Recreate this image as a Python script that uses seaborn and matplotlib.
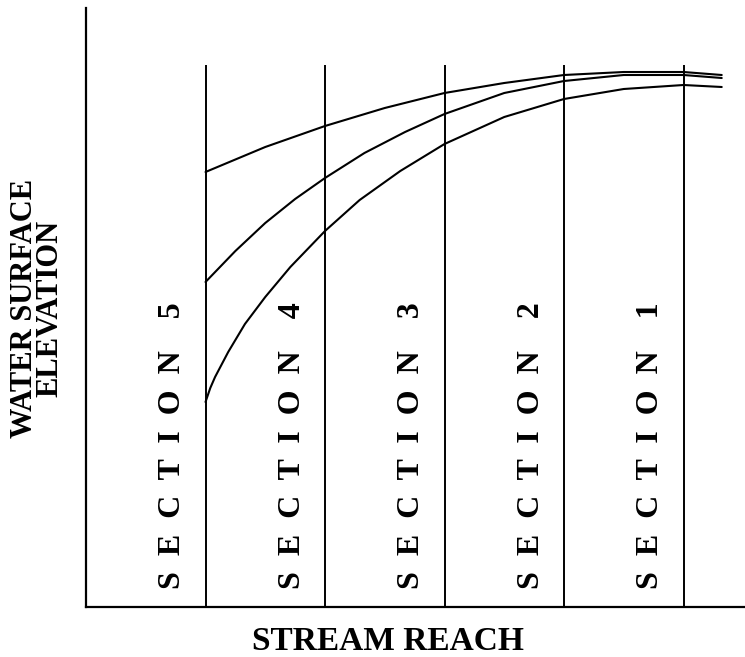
import matplotlib
matplotlib.use("Agg")
import matplotlib.pyplot as plt
import seaborn as sns
import pandas as pd

# Reach stations (each section is 1 unit long) and water-surface elevations
# for the three flow profiles
x_high = [1.0, 1.5, 2.0, 2.5, 3.0, 3.5, 4.0, 4.5, 5.0, 5.32]
elev_high = [435, 460, 481, 499, 514, 524, 532, 535, 535, 532]

x_mid = [1.0, 1.25, 1.5, 1.75, 2.0, 2.33, 2.67, 3.0, 3.5, 4.0, 4.5, 5.0, 5.32]
elev_mid = [325, 356, 384, 408, 429, 454, 475, 493, 514, 526, 532, 532, 529]

x_low = [1.0, 1.04, 1.08, 1.19, 1.33, 1.5, 1.71, 2.0, 2.29, 2.63, 3.0, 3.5, 4.0,
         4.5, 5.0, 5.32]
elev_low = [205, 219, 230, 255, 283, 310, 340, 376, 407, 436, 463, 490, 508,
            518, 522, 520]

# Section boundaries along the reach and their labels
section_bounds = [1, 2, 3, 4, 5]
section_names = ["5", "4", "3", "2", "1"]
boundary_top = 542

profiles = pd.concat([
    pd.DataFrame({"reach": x_high, "elevation": elev_high, "profile": "high"}),
    pd.DataFrame({"reach": x_mid, "elevation": elev_mid, "profile": "mid"}),
    pd.DataFrame({"reach": x_low, "elevation": elev_low, "profile": "low"}),
])

sns.set_theme(style="white")
plt.rcParams["font.family"] = ["Liberation Serif", "DejaVu Serif"]

fig = plt.figure(figsize=(7.45, 6.57), dpi=100)
ax = fig.add_axes([86 / 745, 50 / 657, 659 / 745, 599 / 657])

sns.lineplot(data=profiles, x="reach", y="elevation", hue="profile",
             palette=["black", "black", "black"], estimator=None, sort=False,
             legend=False, linewidth=1.5, ax=ax)

ax.vlines(section_bounds, 0, boundary_top, color="black", linewidth=1.4)

for b, name in zip(section_bounds, section_names):
    label = "  ".join("SECTION") + "    " + name
    ax.text(b - 0.276, 161, label, rotation=90, ha="center", va="center",
            fontsize=23, fontweight="bold", color="black")

ax.set_xlim(0, 659 / 119.5)
ax.set_ylim(0, 599)
ax.set_xticks([])
ax.set_yticks([])
ax.set_xlabel("")
ax.set_ylabel("")
for side in ("top", "right"):
    ax.spines[side].set_visible(False)
for side in ("left", "bottom"):
    ax.spines[side].set_color("black")
    ax.spines[side].set_linewidth(1.6)

fig.text(388 / 745, 1 - 650 / 657, "STREAM REACH", ha="center", va="baseline",
         fontsize=24, fontweight="bold", color="black")
fig.text(37 / 745, 1 - 308 / 657, "WATER SURFACE\nELEVATION", ha="center",
         va="center", rotation=90, multialignment="center", linespacing=0.85,
         fontsize=22, fontweight="bold", color="black")

fig.savefig("out.png", dpi=100, facecolor="white")
